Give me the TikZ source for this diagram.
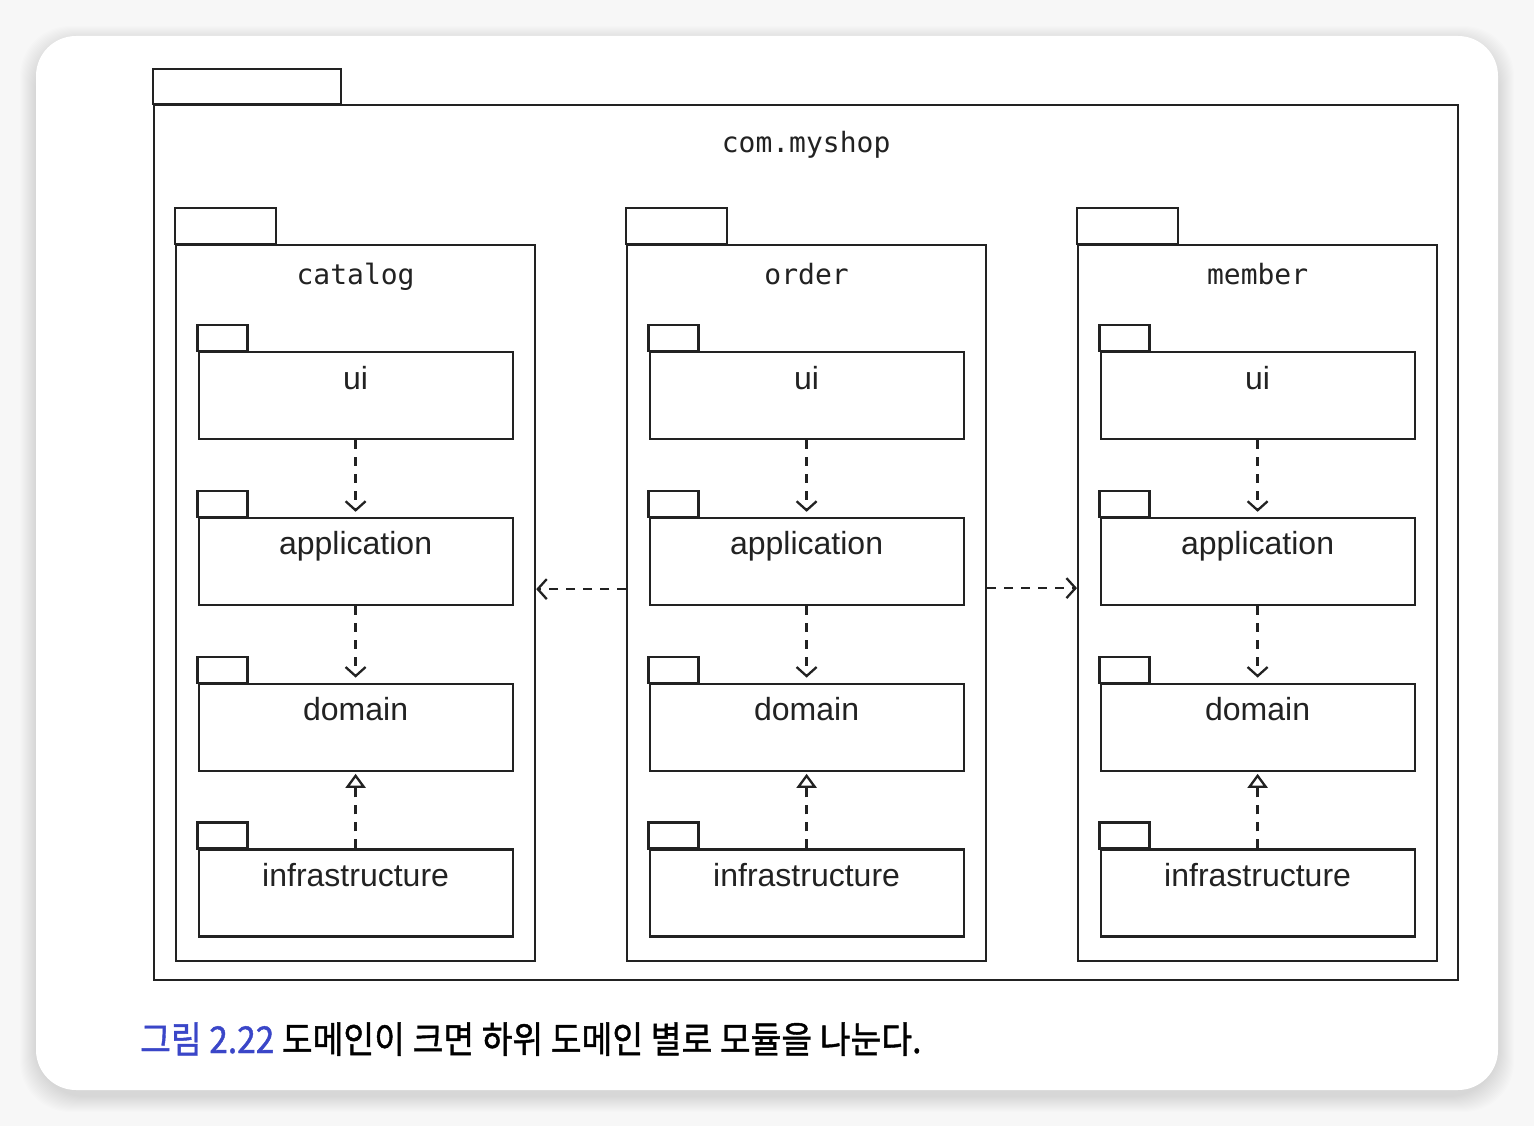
\documentclass[tikz,border=0pt]{standalone}
\usepackage{fontspec}
\usetikzlibrary{arrows.meta, positioning}
\newfontfamily\pkgfont{DejaVu Sans Mono}
\newfontfamily\boxfont{Liberation Sans}
\newfontfamily\capfont[FakeBold=1.2]{Noto Sans CJK KR}
\definecolor{capblue}{RGB}{58,70,200}
\definecolor{inkgray}{RGB}{34,34,34}

\begin{document}
\begin{tikzpicture}[
        x=1pt, y=-1pt,
        node distance=76.6pt and 89.8pt,
        pkgline/.style={draw=inkgray, line width=2.2pt},
        outerpkg/.style={rectangle, pkgline, inner sep=0pt, minimum width=1304pt, minimum height=875pt},
        modpkg/.style={rectangle, pkgline, inner sep=0pt, minimum width=359pt, minimum height=716pt},
        layerpkg/.style={rectangle, pkgline, inner sep=0pt, minimum width=314pt, minimum height=87pt},
        pkgname/.style={font=\pkgfont\fontsize{28}{32}\selectfont, anchor=base, inner sep=0pt, text=inkgray},
        layername/.style={font=\boxfont\fontsize{32}{36}\selectfont, anchor=base, inner sep=0pt, text=inkgray},
        dep/.style={draw=inkgray, line width=2.3pt, dash pattern=on 9pt off 8pt, -{Straight Barb[length=9pt, width=20pt]}},
        impl/.style={draw=inkgray, line width=2.3pt, dash pattern=on 9pt off 8pt, -{Triangle[open, length=14pt, width=20pt, fill=white]}}
    ]
    \useasboundingbox (0,0) rectangle (1534,1126);

    % card and its shadow
    \fill[gray!6] (0,0) rectangle (1534,1126);
    \foreach \s in {1,...,16}
        \fill[black, opacity=0.008, rounded corners=50pt] (36-\s,36-\s+6) rectangle (1498+\s,1090+\s+6);
    \fill[white, rounded corners=40pt] (36,36) rectangle (1498,1090);

    % outer package
    \node [outerpkg, anchor=north west, label={[pkgname, yshift=-49pt]north:com.myshop}] (shop) at (153,104) {};

    % module packages
    \node [modpkg, below right=140pt and 22pt of shop.north west, label={[pkgname, yshift=-40pt]north:catalog}] (catalog) {};
    \node [modpkg, right=of catalog, label={[pkgname, yshift=-40pt]north:order}] (order) {};
    \node [modpkg, right=of order, label={[pkgname, yshift=-40pt]north:member}] (member) {};

    % layers: catalog
    \node [layerpkg, below=107pt of catalog.north, label={[layername, yshift=-38pt]north:ui}] (cat-ui) {};
    \node [layerpkg, below=of cat-ui, label={[layername, yshift=-38pt]north:application}] (cat-app) {};
    \node [layerpkg, below=of cat-app, label={[layername, yshift=-38pt]north:domain}] (cat-dom) {};
    \node [layerpkg, below=of cat-dom, label={[layername, yshift=-38pt]north:infrastructure}] (cat-inf) {};

    % layers: order
    \node [layerpkg, below=107pt of order.north, label={[layername, yshift=-38pt]north:ui}] (ord-ui) {};
    \node [layerpkg, below=of ord-ui, label={[layername, yshift=-38pt]north:application}] (ord-app) {};
    \node [layerpkg, below=of ord-app, label={[layername, yshift=-38pt]north:domain}] (ord-dom) {};
    \node [layerpkg, below=of ord-dom, label={[layername, yshift=-38pt]north:infrastructure}] (ord-inf) {};

    % layers: member
    \node [layerpkg, below=107pt of member.north, label={[layername, yshift=-38pt]north:ui}] (mem-ui) {};
    \node [layerpkg, below=of mem-ui, label={[layername, yshift=-38pt]north:application}] (mem-app) {};
    \node [layerpkg, below=of mem-app, label={[layername, yshift=-38pt]north:domain}] (mem-dom) {};
    \node [layerpkg, below=of mem-dom, label={[layername, yshift=-38pt]north:infrastructure}] (mem-inf) {};

    % tabs
    \draw [pkgline] (shop.north west) rectangle ++(188pt,35pt);
    \foreach \m in {catalog,order,member}
        \draw [pkgline] (\m.north west) rectangle ++(101pt,36pt);
    \foreach \m in {cat,ord,mem}
        \foreach \l in {ui,app,dom,inf}
            \draw [pkgline] (\m-\l.north west) rectangle ++(50pt,26pt);

    % dependencies
    \foreach \m in {cat,ord,mem} {
        \draw [dep, shorten >=5pt] (\m-ui) -- (\m-app);
        \draw [dep, shorten >=5pt] (\m-app) -- (\m-dom);
        \draw [impl, shorten >=2pt] (\m-inf) -- (\m-dom);
    }
    \draw [dep] ([yshift=14pt]order.west) -- ([yshift=14pt]order.west -| catalog.east);
    \draw [dep] ([yshift=15pt]order.east) -- ([yshift=15pt]order.east -| member.west);

    % caption
    \node [font=\capfont\fontsize{37}{44}\selectfont, anchor=base west, inner sep=0pt, xscale=0.905, transform shape] (caption) at (140,1053)
        {\textcolor{capblue}{그림 2.22} 도메인이 크면 하위 도메인 별로 모듈을 나눈다.};

\end{tikzpicture}
\end{document}
